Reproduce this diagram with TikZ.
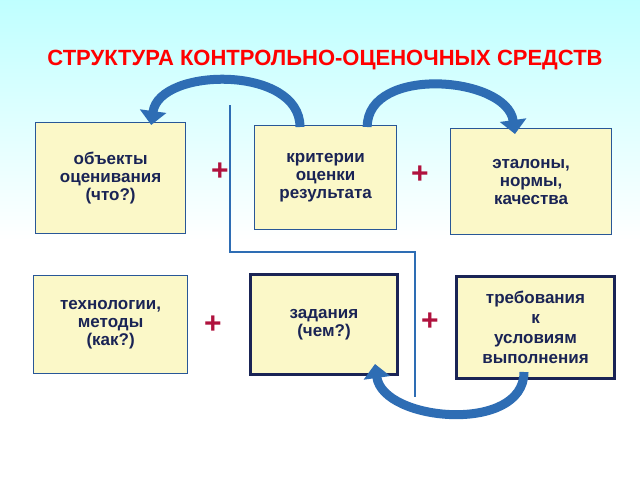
\documentclass[tikz,border=0pt]{standalone}
\usepackage{fontspec}
\setmainfont{Liberation Sans}
\usetikzlibrary{arrows.meta,positioning}
\definecolor{navy}{HTML}{1A2455}
\definecolor{boxfill}{HTML}{FBF8C8}
\definecolor{linkblue}{HTML}{2E6DB4}
\definecolor{plusred}{HTML}{B0123E}
\tikzset{
    item/.style={
    rectangle,draw=linkblue!70!navy,line width=1.2pt,fill=boxfill,align=center,
    font=\bfseries\fontsize{17}{18}\selectfont,text=navy,anchor=north west
    },
    bitem/.style={
    item,draw=navy,line width=3pt
    },
    plus/.style={
    font=\bfseries\fontsize{30}{30}\selectfont,text=plusred
    },
    swing/.style={
    line width=9pt,draw=linkblue,-{Triangle[width=26pt,length=14pt]}
    },
}
\begin{document}
\begin{tikzpicture}[x=1pt,y=-1pt]
   \shade[top color=cyan!25,bottom color=white,middle color=white] (0,0) rectangle (640,480);
   \useasboundingbox (0,0) rectangle (640,480);

   %title
   \node[font=\bfseries\fontsize{22}{24}\selectfont,text=red] (title) at (325,60) {СТРУКТУРА КОНТРОЛЬНО-ОЦЕНОЧНЫХ СРЕДСТВ};

   %upper row
   \node[item,minimum width=150pt,minimum height=111pt] (obj) at (35,122) {объекты\\оценивания\\(что?)};
   \node[item,minimum width=142pt,minimum height=104pt] (crit) at (254,125) {критерии\\оценки\\результата};
   \node[item,minimum width=161pt,minimum height=106pt] (etal) at (450,128) {эталоны,\\нормы,\\качества};

   %lower row
   \node[item,minimum width=154pt,minimum height=98pt] (tech) at (33,275) {технологии,\\методы\\(как?)};
   \node[bitem,minimum width=147pt,minimum height=100pt] (task) at (249,273) {задания\\(чем?)};
   \node[bitem,minimum width=158pt,minimum height=102pt,font=\bfseries\fontsize{17}{20}\selectfont] (cond) at (455,275) {требования\\к\\условиям\\выполнения};

   \node[plus] (p1) at (220,172) {+};
   \node[plus] (p2) at (420,175) {+};
   \node[plus] (p3) at (213,325) {+};
   \node[plus] (p4) at (430,322) {+};

   \coordinate (l0) at (230,105);
   \coordinate (l1) at (415,397);
   \draw[linkblue,line width=2pt] (l0) |- (l1 |- 0,252) -- (l1);

   \draw[swing] ([xshift=46pt,yshift=-2pt]crit.north west) .. controls +(0,-62) and +(8,-58) .. ([xshift=-35pt,yshift=-3pt]obj.north east);
   \draw[swing] ([xshift=-30pt,yshift=-2pt]crit.north east) .. controls +(0,-62) and +(-8,-58) .. ([xshift=65pt,yshift=-6pt]etal.north west);
   \draw[swing] ([xshift=-92pt,yshift=8pt]cond.south east) .. controls +(0,62) and +(8,58) .. ([xshift=-24pt,yshift=12pt]task.south east);
\end{tikzpicture}
\end{document}
